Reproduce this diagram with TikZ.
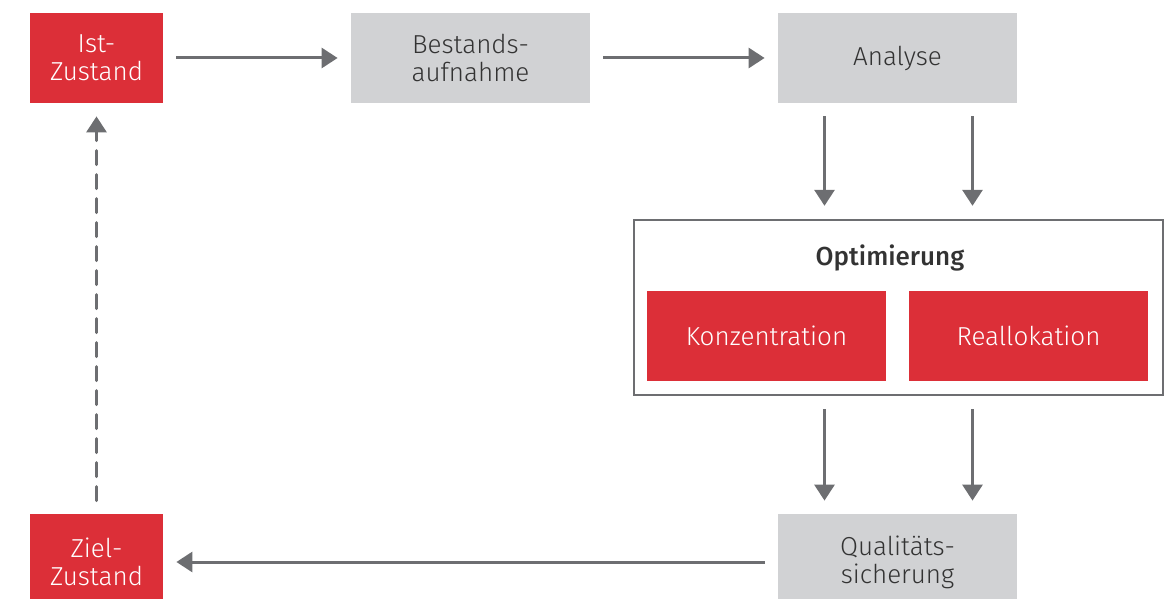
\documentclass[tikz,border=0pt]{standalone}
\usepackage{fontspec}
\setmainfont{Fira Sans}[UprightFont=* Light, BoldFont=* Medium]
\usetikzlibrary{arrows.meta,calc}
\definecolor{rouge}{HTML}{DC2F38}
\definecolor{gris}{HTML}{D1D2D4}
\definecolor{ardoise}{HTML}{6D6E71}
\definecolor{encre}{HTML}{333333}
\begin{document}
\begin{tikzpicture}[x=0.5pt,y=-0.5pt]
  \tikzstyle{etat}=[fill=rouge, text=white, align=center, inner sep=0pt,
  minimum width=66.5pt, minimum height=45pt, font=\fontsize{13}{14}\selectfont]
  \tikzstyle{etape}=[fill=gris, text=encre, align=center, inner sep=0pt,
  minimum width=119.5pt, minimum height=45pt, font=\fontsize{13}{14}\selectfont]
  \tikzstyle{levier}=[etat, minimum width=119.5pt]
  \tikzstyle{fleche}=[-{Triangle[width=10pt,length=8pt]}, draw=ardoise,
  line width=1.5pt, shorten <=6.5pt, shorten >=6.5pt]
  \useasboundingbox (0,0) rectangle (1169,599);
  \node[etat] (ist) at (96.5,58) {Ist-\\Zustand};
  \node[etape] (bestand) at (470.5,58) {Bestands-\\aufnahme};
  \node[etape] (analyse) at (897.5,58) {Analyse};
  \node[draw=ardoise, line width=1.2pt, minimum width=264.5pt,
  minimum height=87.5pt, inner sep=0pt] (opt) at (898.5,307.5) {};
  \node[text=encre, font=\fontsize{13}{14}\bfseries] (titre) at (890,258) {Optimierung};
  \node[levier] (konz) at (766.5,336) {Konzentration};
  \node[levier] (realloc) at (1028.5,336) {Reallokation};
  \node[etape, minimum height=48pt] (quali) at (897.5,562) {Qualitäts-\\sicherung};
  \node[etat, minimum height=48pt] (ziel) at (96.5,562) {Ziel-\\Zustand};
  \draw[fleche] (ist) -- (bestand);
  \draw[fleche] (bestand) -- (analyse);
  \foreach \dx in {-36.5,37.5} {
    \draw[fleche] ([xshift=\dx pt]analyse.south) -- ([xshift=\dx pt]analyse.south |- opt.north);
    \draw[fleche] ([xshift=\dx pt]analyse.south |- opt.south) -- ([xshift=\dx pt]analyse.south |- quali.north);
  }
  \draw[fleche] (quali) -- (ziel);
  \draw[fleche, dash pattern=on 7pt off 5pt, line cap=round] (ziel) -- (ist);
\end{tikzpicture}
\end{document}
